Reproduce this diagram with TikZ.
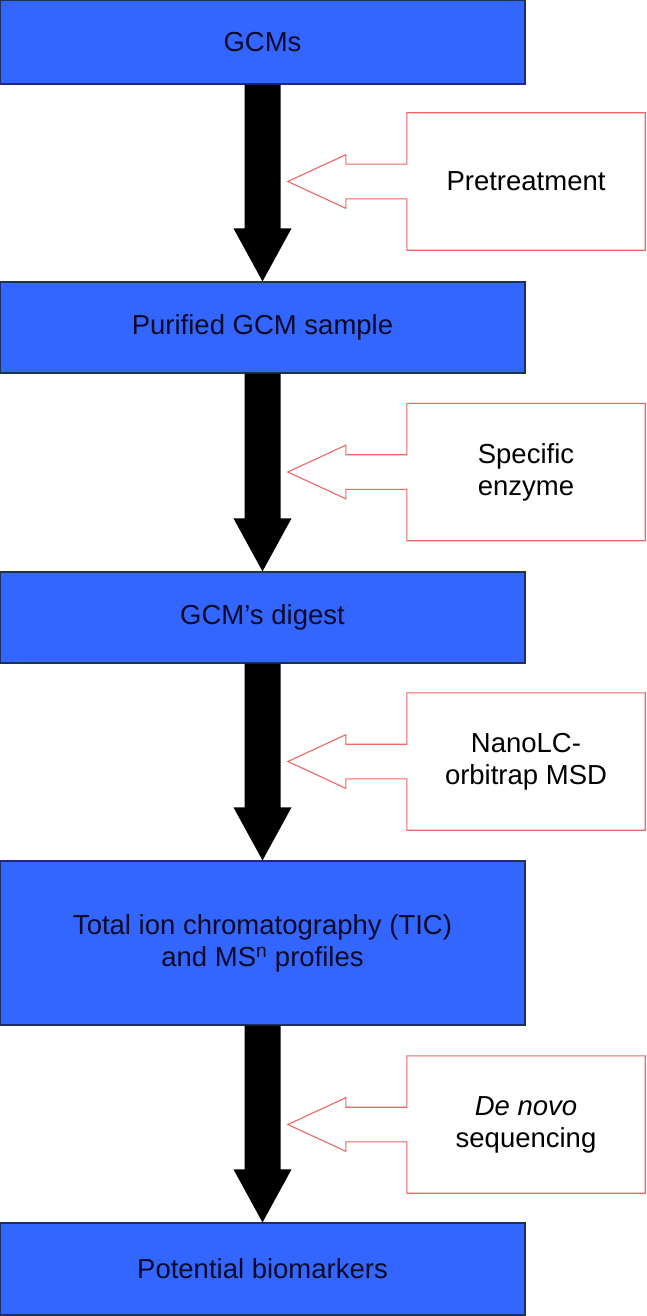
\documentclass[tikz,border=0pt]{standalone}
\usepackage{fontspec}
\setmainfont{Liberation Sans}
\usetikzlibrary{calc}
\definecolor{boxblue}{HTML}{3366FF}
\definecolor{boxedge}{HTML}{1F2F5F}
\definecolor{boxtext}{HTML}{0A0A28}
\definecolor{callred}{HTML}{EE6666}
\tikzset{
  stepbox/.style={draw=boxedge, line width=1.2pt, fill=boxblue, text=boxtext,
    minimum width=525pt, inner sep=0pt, align=center,
    font=\fontsize{27.5pt}{32pt}\selectfont},
  calltext/.style={minimum width=238pt, minimum height=137pt, inner sep=0pt,
    align=center, font=\fontsize{27.5pt}{32pt}\selectfont},
  callline/.style={draw=callred, line width=1.1pt, line join=miter},
}
\newcommand{\flowarrow}[2]{%
  \fill[black] let \p1=(#1.south), \p2=(#2.north) in
    (\x1-18pt,\y1) -- (\x1-18pt,\y2+53pt) -- (\x1-29pt,\y2+53pt) -- (\x2,\y2)
    -- (\x1+29pt,\y2+53pt) -- (\x1+18pt,\y2+53pt) -- (\x1+18pt,\y1) -- cycle;}
\newcommand{\callshape}[1]{%
  \draw[callline] let \p1=(#1.north west), \p2=(#1.south east), \p3=(#1.west) in
    (\x1,\y1) -- (\x2,\y1) -- (\x2,\y2) -- (\x1,\y2) -- (\x1,\y3-17.3pt)
    -- (\x1-61pt,\y3-17.3pt) -- (\x1-61pt,\y3-26.8pt) -- (\x1-119pt,\y3)
    -- (\x1-61pt,\y3+26.8pt) -- (\x1-61pt,\y3+17.3pt) -- (\x1,\y3+17.3pt) -- cycle;}
\begin{document}
\begin{tikzpicture}[x=1pt,y=-1pt]
\useasboundingbox (0,0) rectangle (646,1316);
\node[stepbox, minimum height=84pt] (b1) at (262.5,42) {GCMs};
\node[stepbox, minimum height=91pt] (b2) at (262.5,327.5) {Purified GCM sample};
\node[stepbox, minimum height=91pt] (b3) at (262.5,617.5) {GCM’s digest};
\node[stepbox, minimum height=164pt] (b4) at (262.5,943) {Total ion chromatography (TIC)\\and MS\textsuperscript{n} profiles};
\node[stepbox, minimum height=92pt] (b5) at (262.5,1269) {Potential biomarkers};

\flowarrow{b1}{b2}
\flowarrow{b2}{b3}
\flowarrow{b3}{b4}
\flowarrow{b4}{b5}

\node[calltext] (c1) at (526,181.5) {Pretreatment};
\node[calltext] (c2) at (526,472) {Specific\\enzyme};
\node[calltext] (c3) at (526,761.5) {NanoLC-\\orbitrap MSD};
\node[calltext] (c4) at (526,1124.5) {\textit{De novo}\\sequencing};
\callshape{c1}
\callshape{c2}
\callshape{c3}
\callshape{c4}
\end{tikzpicture}
\end{document}
